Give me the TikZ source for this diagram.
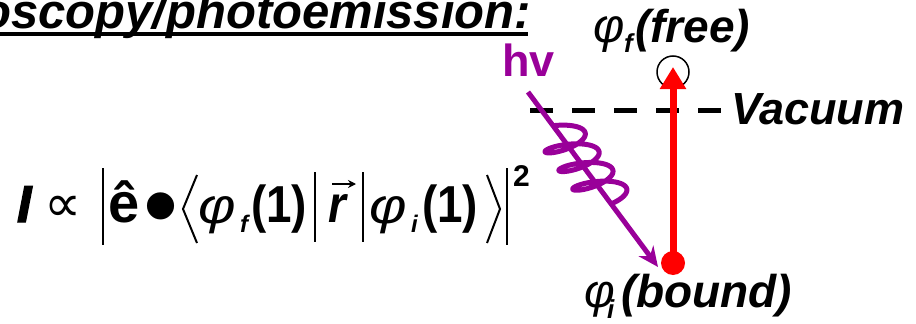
\documentclass[tikz,border=0pt]{standalone}
\usepackage{fontspec}
\setmainfont{Liberation Sans}
\newfontfamily\dejavu{DejaVu Sans}
\newfontfamily\heavy{Liberation Sans}[BoldItalicFeatures={FakeBold=2.5}]
\newfontfamily\cond{Liberation Sans}[FakeStretch=0.88]
\newfontfamily\widephi{Liberation Sans}[FakeStretch=1.15]
\usetikzlibrary{arrows.meta}
\definecolor{photoncol}{RGB}{153,0,153}
\definecolor{exccol}{RGB}{255,0,0}
\newcommand\fs[1]{\fontsize{#1pt}{#1pt}\selectfont}
\begin{document}
\begin{tikzpicture}[x=1pt,y=-1pt,
  txt/.style={inner sep=0pt,outer sep=0pt,anchor=base west},
  bar/.style={line width=2.2pt},
  delim/.style={line width=2pt,line join=miter},
  vecarrow/.style={line width=2pt,-{Stealth[length=8pt,width=8pt]}},
  photonarrow/.style={photoncol,line width=5pt,-{Stealth[length=20pt,width=18pt]}},
  photoncoil/.style={photoncol,line width=5pt,line join=round},
  levelline/.style={line width=5pt,dash pattern=on 23pt off 19pt},
  excarrow/.style={exccol,line width=7pt,-{Triangle[length=22pt,width=25pt]}}
]
\useasboundingbox (0,0) rectangle (916,324);

% title
\node[txt,anchor=base east,font=\fs{49}\bfseries\itshape] (title) at (531,28) {oscopy/photoemission:};
\draw[line width=3.5pt] (0,34) -- (528,34);

% equation
\node[txt,font=\fs{52}\heavy\bfseries\itshape] (I) at (17,222) {I};
\node[txt,font=\fs{52}\dejavu] (prop) at (44,221) {∝};
\draw[bar] (103,168) -- (103,245);
\node[txt,font=\fs{56}\bfseries] (e) at (108,222) {ê};
\node[txt,font=\fs{100}] (dot) at (143,239) {•};
\draw[delim] (197,175) -- (183,209) -- (197,243);
\node[txt,font=\fs{50}\widephi\itshape] (phif) at (198,223) {φ};
\node[txt,font=\fs{24}\bfseries\itshape] (f) at (240,232) {f};
\node[txt,font=\fs{52}\cond\bfseries] (one1) at (251,222) {(1)};
\draw[bar] (315,172) -- (315,242);
\node[txt,font=\fs{52}\cond\bfseries\itshape] (r) at (328,222) {r};
\draw[vecarrow] (332,184) -- (356,184);
\draw[bar] (363,172) -- (363,242);
\node[txt,font=\fs{50}\widephi\itshape] (phii) at (369,223) {φ};
\node[txt,font=\fs{24}\bfseries\itshape] (i) at (411,232) {i};
\node[txt,font=\fs{52}\cond\bfseries] (one2) at (422,222) {(1)};
\draw[delim] (487,175) -- (500,209) -- (487,243);
\draw[bar] (507,168) -- (507,245);
\node[txt,font=\fs{30}\bfseries] (sq) at (513,186) {2};

% right diagram
\node[txt,font=\fs{45}\bfseries,text=photoncol] (hv) at (502,76) {hv};
\coordinate (vl0) at (530,110);
\coordinate (vl1) at (722,110);
\draw[levelline] (vl0) -- (vl1);
\node[txt,font=\fs{45}\bfseries\itshape] (vac) at (731,124) {Vacuum};
\node[circle,draw,line width=1.5pt,minimum size=32pt,inner sep=0pt] (free) at (673,72) {};
\node[circle,fill=exccol,minimum size=24pt,inner sep=0pt] (bound) at (673,263) {};
\draw[excarrow] (bound.center) -- ([yshift=5pt]free.center);
\coordinate (ph0) at (528,92);
\coordinate (ptip) at (658,267);
\draw[photonarrow] (ph0) -- (ptip);
\begin{scope}[shift={(ph0)},x={(0.596pt,-0.803pt)},y={(0.803pt,0.596pt)}]
\draw[photoncoil] plot[domain=0:7*pi,samples=240,smooth,variable=\t]
     ({42+3.7*\t+8*(1-cos(\t r))+9*sin(\t r)},{22*sin(\t r)});
\end{scope}

\node[txt,font=\fs{48}\itshape] (phifree) at (593,42) {φ};
\node[txt,font=\fs{26}\bfseries\itshape] (subf) at (624,52) {f};
\node[txt,font=\fs{46}\bfseries\itshape] (freetxt) at (635,42) {(free)};

\node[txt,font=\fs{47}\itshape] (phib) at (584,307) {φ};
\node[txt,font=\fs{26}\bfseries\itshape] (subi) at (607,318) {i};
\node[txt,font=\fs{46}\bfseries\itshape] (boundtxt) at (621,307) {(bound)};
\end{tikzpicture}
\end{document}
